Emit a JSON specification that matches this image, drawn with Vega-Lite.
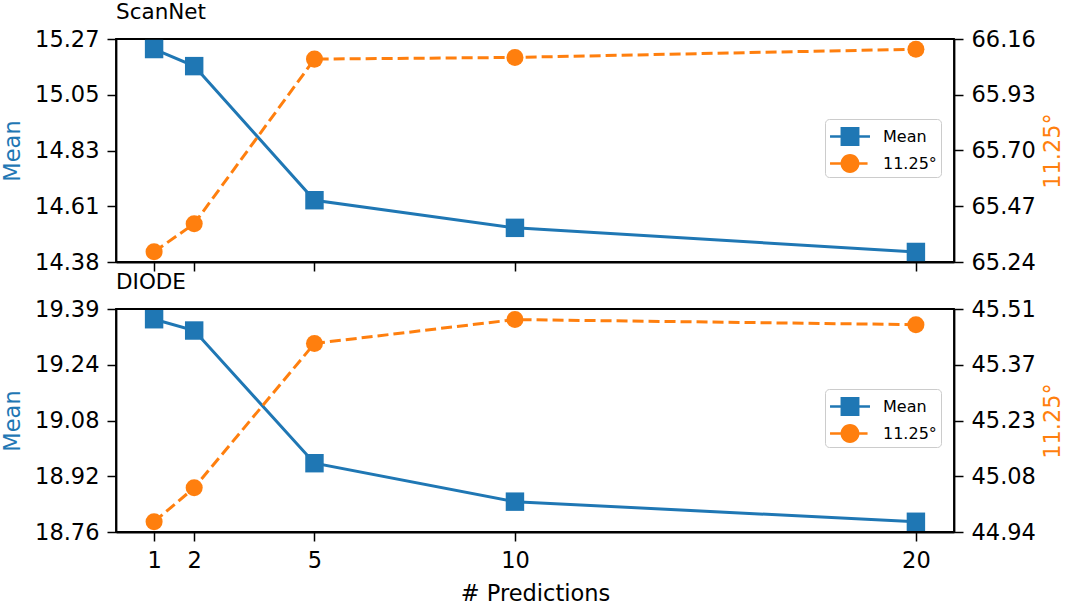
{
  "$schema": "https://vega.github.io/schema/vega-lite/v6.json",
  "background": "white",
  "padding": {"left": 0, "top": 0, "right": 5, "bottom": 5},
  "config": {
    "font": "DejaVu Sans",
    "view": {"stroke": "black", "strokeWidth": 1.8},
    "axis": {
      "domainColor": "black", "domainWidth": 1.8, "tickColor": "black", "tickWidth": 1.5, "tickSize": 9,
      "labelFontSize": 22.5, "labelColor": "black", "titleFontSize": 22.5, "titleFontWeight": "normal",
      "grid": false, "labelFont": "DejaVu Sans", "titleFont": "DejaVu Sans", "labelPadding": 8
    },
    "title": {"fontSize": 21.5, "fontWeight": "normal", "anchor": "start", "frame": "group", "color": "black"},
    "legend": {
      "orient": "none", "legendX": 709, "legendY": 80, "padding": 4, "strokeColor": "#cccccc",
      "fillColor": "rgba(255,255,255,0.8)", "cornerRadius": 4, "labelFontSize": 16, "labelColor": "black",
      "symbolSize": 729, "symbolStrokeWidth": 0, "symbolOpacity": 1, "labelOffset": 27, "rowPadding": 4,
      "title": null
    }
  },
  "datasets": {
    "scannet": [
      {"n": 1, "mean": 15.232, "acc": 65.282},
      {"n": 2, "mean": 15.164, "acc": 65.398},
      {"n": 5, "mean": 14.63, "acc": 66.077},
      {"n": 10, "mean": 14.52, "acc": 66.084},
      {"n": 20, "mean": 14.424, "acc": 66.118}
    ],
    "diode": [
      {"n": 1, "mean": 19.365, "acc": 44.968},
      {"n": 2, "mean": 19.333, "acc": 45.055},
      {"n": 5, "mean": 18.957, "acc": 45.424},
      {"n": 10, "mean": 18.848, "acc": 45.485},
      {"n": 20, "mean": 18.791, "acc": 45.472}
    ]
  },
  "vconcat": [
    {
      "title": {"text": "ScanNet", "offset": 5},
      "width": 838, "height": 223,
      "data": {"name": "scannet"},
      "encoding": {
        "x": {"field": "n", "type": "quantitative", "scale": {"domain": [0.05, 20.95], "nice": false, "zero": false},
              "axis": {"values": [1, 2, 5, 10, 20], "labels": false, "title": null}}
      },
      "layer": [
        {
          "encoding": {
            "y": {"field": "mean", "type": "quantitative", "scale": {"domain": [14.384, 15.272], "nice": false, "zero": false},
                  "axis": {"orient": "left", "values": [14.384, 14.606, 14.828, 15.05, 15.272], "format": ".2f", "title": "Mean", "titleColor": "#1f77b4", "titlePadding": 10}}
          },
          "layer": [
            {"mark": {"type": "line", "color": "#1f77b4", "strokeWidth": 3}},
            {"mark": {"type": "point", "shape": "square", "filled": true, "color": "#1f77b4", "opacity": 1, "size": 340}},
            {
              "transform": [{"fold": ["mean", "acc"], "as": ["series", "value"]}],
              "mark": {"type": "point", "filled": true, "opacity": 0},
              "encoding": {
                "color": {"field": "series", "type": "nominal", "scale": {"domain": ["mean", "acc"], "range": ["#1f77b4", "#ff7f0e"]},
                          "legend": {"labelExpr": "datum.label == 'mean' ? 'Mean' : '11.25°'"}},
                "shape": {"field": "series", "type": "nominal", "scale": {"domain": ["mean", "acc"], "range": [
                  "M-0.924,-0.09H2.036V0.09H-0.924Z M-0.144,-0.7H1.256V0.7H-0.144Z",
                  "M-0.924,-0.09H0.006V0.09H-0.924Z M1.106,-0.09H1.856V0.09H1.106Z M1.256,0A0.7,0.7 0 1,1 -0.144,0A0.7,0.7 0 1,1 1.256,0Z"
                ]}, "legend": {"labelExpr": "datum.label == 'mean' ? 'Mean' : '11.25°'"}}
              }
            }
          ]
        },
        {
          "encoding": {
            "y": {"field": "acc", "type": "quantitative", "scale": {"domain": [65.24, 66.16], "nice": false, "zero": false},
                  "axis": {"orient": "right", "values": [65.24, 65.47, 65.7, 65.93, 66.16], "format": ".2f", "title": "11.25°", "titleColor": "#ff7f0e", "titleAngle": 270, "titleBaseline": "top", "titlePadding": 6}}
          },
          "layer": [
            {"mark": {"type": "line", "color": "#ff7f0e", "strokeWidth": 3, "strokeDash": [11, 5]}},
            {"mark": {"type": "point", "shape": "circle", "filled": true, "color": "#ff7f0e", "opacity": 1, "size": 290}}
          ]
        }
      ],
      "resolve": {"scale": {"y": "independent"}}
    },
    {
      "title": {"text": "DIODE", "offset": 5},
      "width": 838, "height": 223,
      "data": {"name": "diode"},
      "encoding": {
        "x": {"field": "n", "type": "quantitative", "scale": {"domain": [0.05, 20.95], "nice": false, "zero": false},
              "axis": {"values": [1, 2, 5, 10, 20], "title": "# Predictions", "titlePadding": 11}}
      },
      "layer": [
        {
          "encoding": {
            "y": {"field": "mean", "type": "quantitative", "scale": {"domain": [18.762, 19.394], "nice": false, "zero": false},
                  "axis": {"orient": "left", "values": [18.762, 18.92, 19.078, 19.236, 19.394], "format": ".2f", "title": "Mean", "titleColor": "#1f77b4", "titlePadding": 10}}
          },
          "layer": [
            {"mark": {"type": "line", "color": "#1f77b4", "strokeWidth": 3}},
            {"mark": {"type": "point", "shape": "square", "filled": true, "color": "#1f77b4", "opacity": 1, "size": 340}},
            {
              "transform": [{"fold": ["mean", "acc"], "as": ["series", "value"]}],
              "mark": {"type": "point", "filled": true, "opacity": 0},
              "encoding": {
                "color": {"field": "series", "type": "nominal", "scale": {"domain": ["mean", "acc"], "range": ["#1f77b4", "#ff7f0e"]},
                          "legend": {"labelExpr": "datum.label == 'mean' ? 'Mean' : '11.25°'"}},
                "shape": {"field": "series", "type": "nominal", "scale": {"domain": ["mean", "acc"], "range": [
                  "M-0.924,-0.09H2.036V0.09H-0.924Z M-0.144,-0.7H1.256V0.7H-0.144Z",
                  "M-0.924,-0.09H0.006V0.09H-0.924Z M1.106,-0.09H1.856V0.09H1.106Z M1.256,0A0.7,0.7 0 1,1 -0.144,0A0.7,0.7 0 1,1 1.256,0Z"
                ]}, "legend": {"labelExpr": "datum.label == 'mean' ? 'Mean' : '11.25°'"}}
              }
            }
          ]
        },
        {
          "encoding": {
            "y": {"field": "acc", "type": "quantitative", "scale": {"domain": [44.942, 45.512], "nice": false, "zero": false},
                  "axis": {"orient": "right", "values": [44.942, 45.0845, 45.227, 45.3695, 45.512], "format": ".2f", "title": "11.25°", "titleColor": "#ff7f0e", "titleAngle": 270, "titleBaseline": "top", "titlePadding": 6}}
          },
          "layer": [
            {"mark": {"type": "line", "color": "#ff7f0e", "strokeWidth": 3, "strokeDash": [11, 5]}},
            {"mark": {"type": "point", "shape": "circle", "filled": true, "color": "#ff7f0e", "opacity": 1, "size": 290}}
          ]
        }
      ],
      "resolve": {"scale": {"y": "independent"}}
    }
  ],
  "resolve": {"scale": {"color": "independent", "shape": "independent"}},
  "spacing": -5
}
